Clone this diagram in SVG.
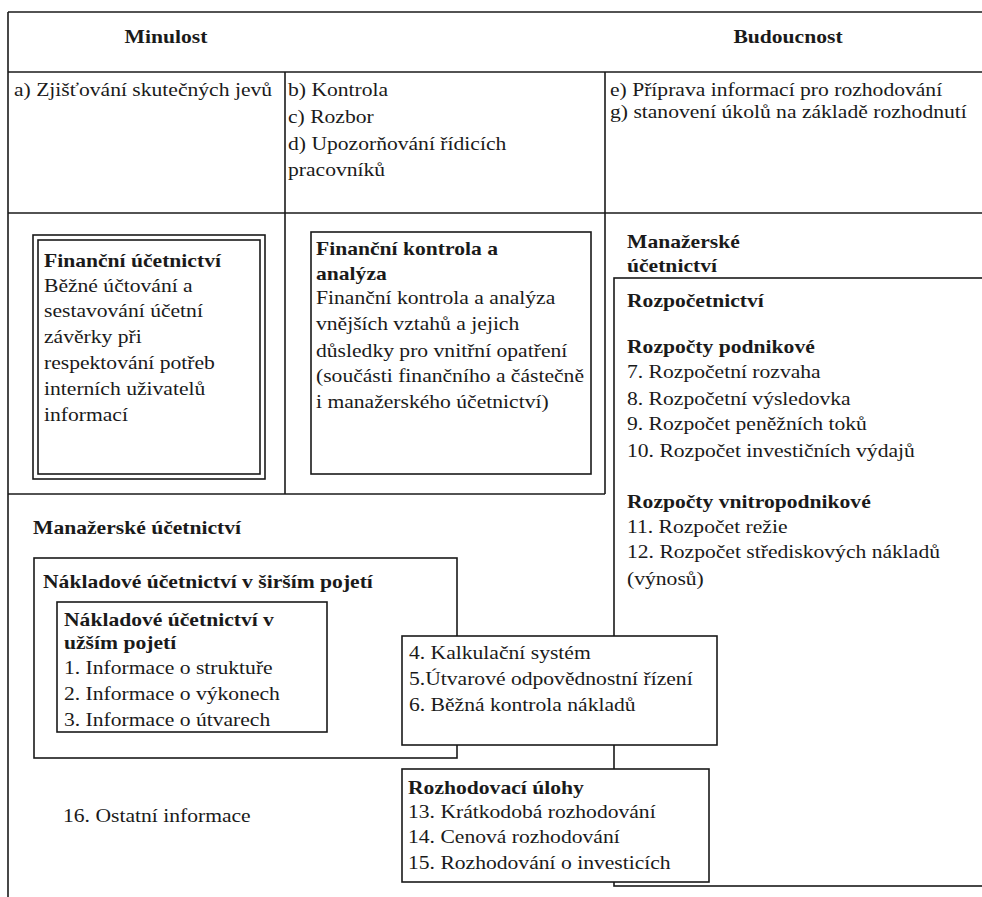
<svg xmlns="http://www.w3.org/2000/svg" width="982" height="897" viewBox="0 0 982 897" font-family="'Liberation Serif', 'Times New Roman', Times, serif">
<style>
.t { font-family: 'Liberation Serif', 'Times New Roman', Times, serif; font-size: 18px; fill: #1a1a1a; }
.b { font-weight: bold; }
.m { text-anchor: middle; }
.box { fill: #ffffff; stroke: #1a1a1a; stroke-width: 1.6; }
.ln { stroke: #1a1a1a; stroke-width: 1.6; fill: none; }
</style>
<rect x="0" y="0" width="982" height="897" fill="#ffffff"/>
<g id="grid-lines">
  <line class="ln" x1="8" y1="12" x2="982" y2="12"/>
  <line class="ln" x1="8" y1="12" x2="8" y2="897"/>
  <line class="ln" x1="8" y1="72" x2="982" y2="72"/>
  <line class="ln" x1="8" y1="213" x2="982" y2="213"/>
  <line class="ln" x1="285" y1="72" x2="285" y2="494"/>
  <line class="ln" x1="605" y1="72" x2="605" y2="494"/>
  <line class="ln" x1="8" y1="494" x2="605" y2="494"/>
</g>
<g id="header-minulost">
  <text class="t b m" transform="translate(166,43) scale(1.2,1)">Minulost</text>
</g>
<g id="header-budoucnost">
  <text class="t b m" transform="translate(788,43) scale(1.2,1)">Budoucnost</text>
</g>
<g id="cell-a">
  <text class="t" transform="translate(14,96) scale(1.2,1)">a) Zjišťování skutečných jevů</text>
</g>
<g id="cell-bcd">
  <text class="t" transform="translate(288,96) scale(1.2,1)"><tspan x="0" dy="0">b) Kontrola</tspan><tspan x="0" dy="27">c) Rozbor</tspan><tspan x="0" dy="27">d) Upozorňování řídicích</tspan><tspan x="0" dy="26">pracovníků</tspan></text>
</g>
<g id="cell-eg">
  <text class="t" transform="translate(610,96) scale(1.2,1)"><tspan x="0" dy="0">e) Příprava informací pro rozhodování</tspan><tspan x="0" dy="22">g) stanovení úkolů na základě rozhodnutí</tspan></text>
</g>
<g id="financni-ucetnictvi">
  <rect class="box" x="33" y="235" width="232" height="244"/>
  <rect class="box" x="38" y="240" width="222" height="234"/>
  <text class="t" transform="translate(44,267) scale(1.2,1)"><tspan x="0" dy="0" class="b">Finanční účetnictví</tspan><tspan x="0" dy="25">Běžné účtování a</tspan><tspan x="0" dy="25">sestavování účetní</tspan><tspan x="0" dy="26">závěrky při</tspan><tspan x="0" dy="26">respektování potřeb</tspan><tspan x="0" dy="26">interních uživatelů</tspan><tspan x="0" dy="26">informací</tspan></text>
</g>
<g id="financni-kontrola">
  <rect class="box" x="311" y="232" width="280" height="242"/>
  <text class="t" transform="translate(316,255) scale(1.2,1)"><tspan x="0" dy="0" class="b">Finanční kontrola a</tspan><tspan x="0" dy="25" class="b">analýza</tspan><tspan x="0" dy="24">Finanční kontrola a analýza</tspan><tspan x="0" dy="26">vnějších vztahů a jejich</tspan><tspan x="0" dy="27">důsledky pro vnitřní opatření</tspan><tspan x="0" dy="25">(součásti finančního a částečně</tspan><tspan x="0" dy="26">i manažerského účetnictví)</tspan></text>
</g>
<g id="manazerske-label-right">
  <text class="t b" transform="translate(627,248) scale(1.2,1)"><tspan x="0" dy="0">Manažerské</tspan><tspan x="0" dy="24">účetnictví</tspan></text>
</g>
<g id="rozpocetnictvi">
  <rect class="box" x="614" y="278" width="380" height="608"/>
  <text class="t" transform="translate(627,307) scale(1.2,1)"><tspan x="0" dy="0" class="b">Rozpočetnictví</tspan><tspan x="0" dy="46" class="b">Rozpočty podnikové</tspan><tspan x="0" dy="25">7. Rozpočetní rozvaha</tspan><tspan x="0" dy="27">8. Rozpočetní výsledovka</tspan><tspan x="0" dy="25">9. Rozpočet peněžních toků</tspan><tspan x="0" dy="27">10. Rozpočet investičních výdajů</tspan><tspan x="0" dy="51" class="b">Rozpočty vnitropodnikové</tspan><tspan x="0" dy="25">11. Rozpočet režie</tspan><tspan x="0" dy="25">12. Rozpočet střediskových nákladů</tspan><tspan x="0" dy="27">(výnosů)</tspan></text>
</g>
<g id="manazerske-label-left">
  <text class="t b" transform="translate(33,534) scale(1.2,1)">Manažerské účetnictví</text>
</g>
<g id="nakladove-sirsi">
  <rect class="box" x="34" y="558" width="423" height="200"/>
  <text class="t b" transform="translate(43,588) scale(1.2,1)">Nákladové účetnictví v širším pojetí</text>
</g>
<g id="nakladove-uzsi">
  <rect class="box" x="57" y="602" width="270" height="130"/>
  <text class="t" transform="translate(64,626) scale(1.2,1)"><tspan x="0" dy="0" class="b">Nákladové účetnictví v</tspan><tspan x="0" dy="23" class="b">užším pojetí</tspan><tspan x="0" dy="25">1. Informace o struktuře</tspan><tspan x="0" dy="26">2. Informace o výkonech</tspan><tspan x="0" dy="26">3. Informace o útvarech</tspan></text>
</g>
<g id="kalkulacni">
  <rect class="box" x="402" y="636" width="315" height="109"/>
  <text class="t" transform="translate(409,659) scale(1.2,1)"><tspan x="0" dy="0">4. Kalkulační systém</tspan><tspan x="0" dy="26">5.Útvarové odpovědnostní řízení</tspan><tspan x="0" dy="26">6. Běžná kontrola nákladů</tspan></text>
</g>
<g id="rozhodovaci">
  <rect class="box" x="402" y="769" width="307" height="113"/>
  <text class="t" transform="translate(408,794) scale(1.2,1)"><tspan x="0" dy="0" class="b">Rozhodovací úlohy</tspan><tspan x="0" dy="24">13. Krátkodobá rozhodování</tspan><tspan x="0" dy="25">14. Cenová rozhodování</tspan><tspan x="0" dy="26">15. Rozhodování o investicích</tspan></text>
</g>
<g id="ostatni">
  <text class="t" transform="translate(63,822) scale(1.2,1)">16. Ostatní informace</text>
</g>
</svg>
